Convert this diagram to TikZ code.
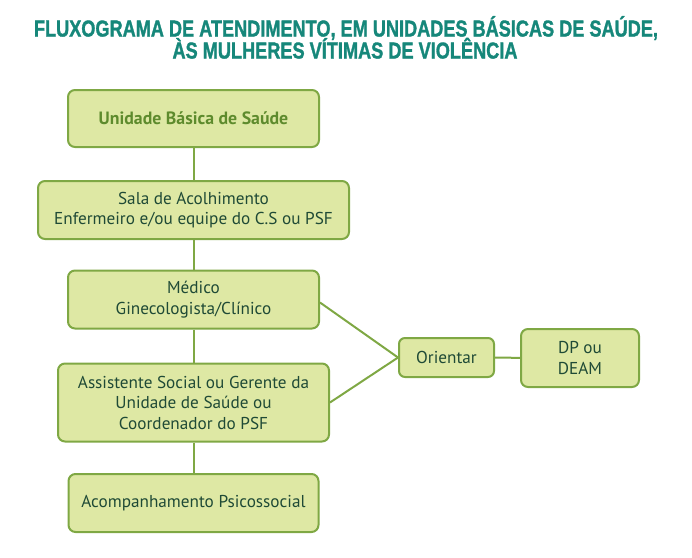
\documentclass[tikz,border=0pt]{standalone}
\usepackage{fontspec}
\setmainfont{PT Sans}
\newfontfamily\titlefont[FakeBold=1.6]{Liberation Sans}
\definecolor{boxfill}{HTML}{DEE8A4}
\definecolor{boxline}{HTML}{7FA844}
\definecolor{boxtext}{HTML}{1F4A36}
\definecolor{headtext}{HTML}{5E8B2D}
\definecolor{titlecol}{HTML}{16877A}
\begin{document}
\begin{tikzpicture}[x=1pt,y=-1pt,
  flowbox/.style={draw=boxline, fill=boxfill, line width=2pt, rounded corners=7pt,
    text=boxtext, align=center, inner sep=0pt, font=\fontsize{17.2}{20.5}\selectfont},
  link/.style={draw=boxline, line width=2pt},
  titleline/.style={text=titlecol, inner sep=0pt, anchor=base}]
\useasboundingbox (0,0) rectangle (692,557);
\node[titleline] (t1) at (346,36.5) {\resizebox{624pt}{\height}{\titlefont\bfseries\fontsize{23}{23}\selectfont FLUXOGRAMA DE ATENDIMENTO, EM UNIDADES BÁSICAS DE SAÚDE,}};
\node[titleline] (t2) at (345,58.5) {\resizebox{345pt}{\height}{\titlefont\bfseries\fontsize{23}{23}\selectfont ÀS MULHERES VÍTIMAS DE VIOLÊNCIA}};
\node[flowbox, minimum width=251pt, minimum height=57pt, text=headtext, font=\bfseries\fontsize{17.8}{20}\selectfont] (b1) at (193.5,118.5) {Unidade Básica de Saúde};
\node[flowbox, minimum width=311pt, minimum height=58pt] (b2) at (193.5,210) {Sala de Acolhimento\\Enfermeiro e/ou equipe do C.S ou PSF};
\node[flowbox, minimum width=251pt, minimum height=58pt] (b3) at (193.5,299.5) {Médico\\Ginecologista/Clínico};
\node[flowbox, minimum width=271pt, minimum height=78pt] (b4) at (193.5,402.5) {Assistente Social ou Gerente da\\Unidade de Saúde ou\\Coordenador do PSF};
\node[flowbox, minimum width=250pt, minimum height=58pt] (b5) at (193.5,503) {Acompanhamento Psicossocial};
\node[flowbox, minimum width=95pt, minimum height=39pt, rounded corners=6pt] (or) at (446.5,357.5) {Orientar};
\node[flowbox, minimum width=118pt, minimum height=58pt] (dp) at (580,358) {DP ou\\DEAM};
\draw[link] (b1) -- (b2);
\draw[link] (b2) -- (b3);
\draw[link] (b3) -- (b4);
\draw[link] (b4) -- (b5);
\draw[link] ([yshift=-3pt]b3.east) -- (or.west);
\draw[link] (b4.east) -- (or.west);
\draw[link] (or) -- (dp);
\end{tikzpicture}
\end{document}
